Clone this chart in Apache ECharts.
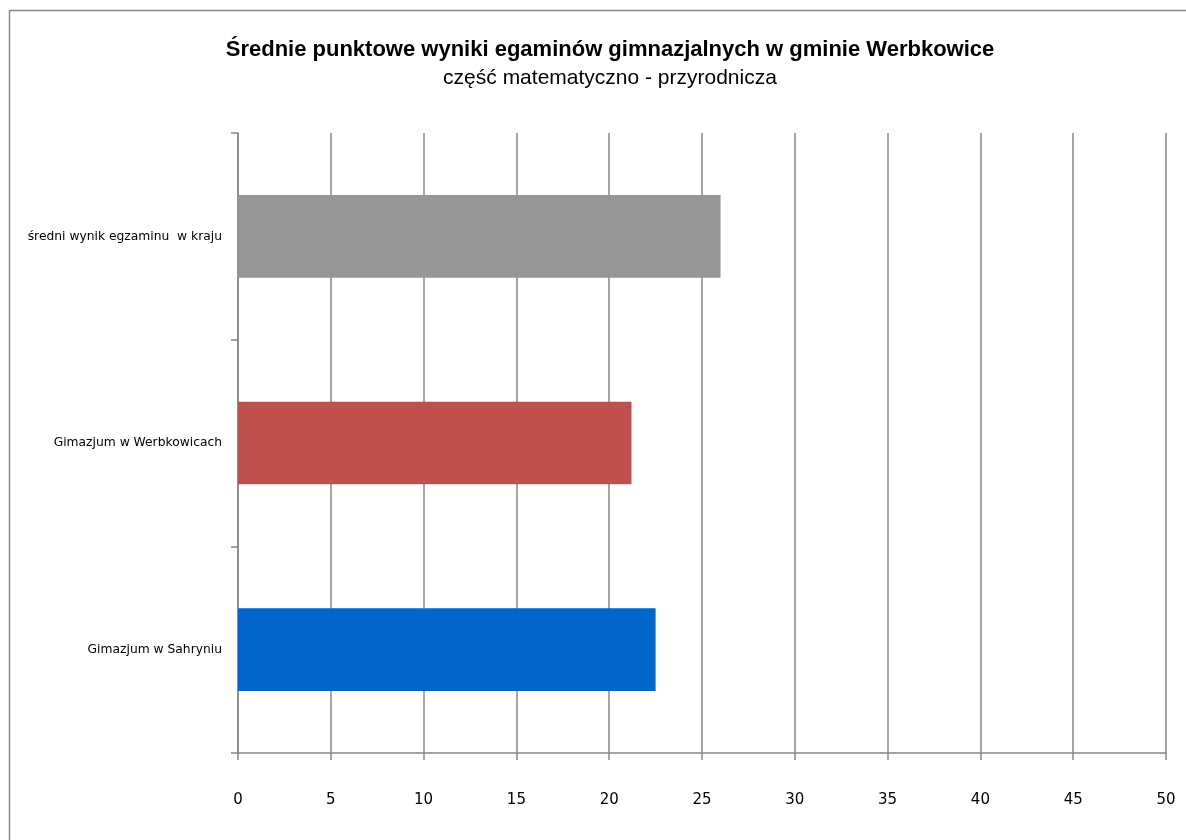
<!DOCTYPE html>
<html>
<head>
<meta charset="utf-8">
<script src="https://cdn.jsdelivr.net/npm/echarts@6/dist/echarts.min.js"></script>
<style>
  html, body { margin: 0; padding: 0; background: #fff; }
  #echarts { width: 1186px; height: 840px; }
</style>
</head>
<body>
<div id="echarts"></div>
<script>
var titleText = 'Średnie punktowe wyniki egaminów gimnazjalnych w gminie Werbkowice';
var subtitleText = 'część matematyczno - przyrodnicza';
var categories = ['średni wynik egzaminu  w kraju', 'Gimazjum w Werbkowicach', 'Gimazjum w Sahryniu'];
var values = [26.0, 21.2, 22.5];
var barColors = ['#969696', '#C0504D', '#0066CC'];
var xTicks = [0, 50, 5]; // min, max, interval

var axisGray = '#878787';

var myChart = echarts.init(document.getElementById('echarts'));
var option = {
    animation: false,
    backgroundColor: '#fff',
    title: {
        text: titleText,
        subtext: subtitleText,
        left: 605,
        top: 34,
        textAlign: 'center',
        itemGap: 7,
        textStyle: { fontFamily: 'Liberation Sans', fontSize: 22, fontWeight: 'bold', color: '#000' },
        subtextStyle: { fontFamily: 'Liberation Sans', fontSize: 21, color: '#000' }
    },
    graphic: [{
        type: 'rect',
        left: 7, top: 8,
        shape: { width: 1200, height: 860 },
        style: { fill: 'none', stroke: '#868686', lineWidth: 1.5 },
        silent: true
    }],
    grid: { left: 238, right: 20, top: 133, bottom: 87 },
    xAxis: {
        type: 'value',
        min: xTicks[0],
        max: xTicks[1],
        interval: xTicks[2],
        axisLine: { show: true, lineStyle: { color: axisGray, width: 1.5 } },
        axisTick: { show: true, length: 7, lineStyle: { color: axisGray, width: 1.5 } },
        axisLabel: { margin: 40, fontFamily: 'DejaVu Sans', fontSize: 15, color: '#000' },
        splitLine: { show: true, lineStyle: { color: axisGray, width: 1.5 } }
    },
    yAxis: {
        type: 'category',
        data: categories,
        inverse: true,
        axisLine: { show: true, lineStyle: { color: axisGray, width: 1.5 } },
        axisTick: { show: true, length: 7, lineStyle: { color: axisGray, width: 1.5 } },
        axisLabel: { margin: 16, fontFamily: 'DejaVu Sans', fontSize: 12.3, color: '#000' }
    },
    series: [{
        type: 'bar',
        barCategoryGap: '60%',
        data: values.map(function (v, i) {
            return { value: v, itemStyle: { color: barColors[i] } };
        })
    }]
};
myChart.setOption(option);
</script>
</body>
</html>
